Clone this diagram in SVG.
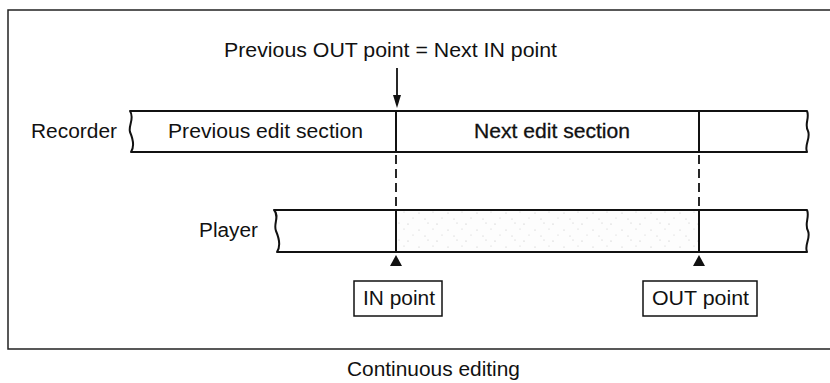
<svg xmlns="http://www.w3.org/2000/svg" width="830" height="383" viewBox="0 0 830 383">
  <style>
    .t { font-family: "Liberation Sans", Arial, Helvetica, sans-serif; font-size: 20px; fill: #111; }
    .strip { fill: none; stroke: #111; stroke-width: 2; stroke-linejoin: round; }
    .div { stroke: #111; stroke-width: 2; }
    .frame { fill: none; stroke: #222; stroke-width: 1.5; }
    .dash { stroke: #111; stroke-width: 1.8; stroke-dasharray: 9 5; }
    .box { fill: #fff; stroke: #111; stroke-width: 1.5; }
    .tri { fill: #111; }
  </style>
  <defs>
    <pattern id="stipple" width="29" height="17" patternUnits="userSpaceOnUse">
      <rect width="29" height="17" fill="#fdfdfd"/>
      <circle cx="2" cy="3" r="0.6" fill="#bbb"/>
      <circle cx="13" cy="9" r="0.6" fill="#c4c4c4"/>
      <circle cx="22" cy="2" r="0.5" fill="#bbb"/>
      <circle cx="7" cy="14" r="0.5" fill="#c4c4c4"/>
      <circle cx="19" cy="15" r="0.5" fill="#bbb"/>
      <circle cx="27" cy="8" r="0.5" fill="#c4c4c4"/>
    </pattern>
  </defs>

  <g id="frame">
    <path class="frame" d="M832,10 H8 V349 H832"/>
  </g>

  <g id="title">
    <text class="t" x="224" y="57" textLength="333" lengthAdjust="spacingAndGlyphs">Previous OUT point = Next IN point</text>
  </g>

  <g id="recorder">
    <text class="t" x="31" y="138" textLength="86" lengthAdjust="spacingAndGlyphs">Recorder</text>
    <path class="strip" d="M130,111 H807 C810,118 804,124 808,131 C811,138 804,145 807,152 H131 C135,146 133,139 130,132 C128,126 135,118 130,111 Z"/>
    <line class="div" x1="396" y1="111" x2="396" y2="152"/>
    <line class="div" x1="699" y1="111" x2="699" y2="152"/>
    <text class="t" x="168" y="138" textLength="195" lengthAdjust="spacingAndGlyphs">Previous edit section</text>
    <text class="t" x="474" y="138" textLength="156" lengthAdjust="spacingAndGlyphs" stroke="#111" stroke-width="0.3">Next edit section</text>
  </g>

  <g id="player">
    <text class="t" x="199" y="237" textLength="59" lengthAdjust="spacingAndGlyphs">Player</text>
    <rect x="397" y="211" width="301" height="40" fill="url(#stipple)"/>
    <path class="strip" d="M274,210 H807 C810,217 804,224 808,231 C811,238 804,245 807,252 H277 C281,246 279,238 276,231 C273,224 280,216 274,210 Z"/>
    <line class="div" x1="396" y1="210" x2="396" y2="252"/>
    <line class="div" x1="699" y1="210" x2="699" y2="252"/>
  </g>

  <g id="in-point">
    <rect class="box" x="354" y="281" width="88" height="35"/>
    <text class="t" x="363" y="305" textLength="72" lengthAdjust="spacingAndGlyphs">IN point</text>
  </g>

  <g id="out-point">
    <rect class="box" x="643" y="281" width="114" height="35"/>
    <text class="t" x="652" y="305" textLength="97" lengthAdjust="spacingAndGlyphs">OUT point</text>
  </g>

  <g id="connectors">
    <line x1="397" y1="68" x2="397" y2="97" stroke="#111" stroke-width="1.8"/>
    <polygon class="tri" points="393,95 401,95 397,108"/>
    <line class="dash" x1="396" y1="155" x2="396" y2="209"/>
    <line class="dash" x1="699" y1="155" x2="699" y2="209"/>
    <polygon class="tri" points="396,255 402,266 390,266"/>
    <polygon class="tri" points="699,255 705,266 693,266"/>
  </g>

  <g id="caption">
    <text class="t" x="347" y="376" textLength="173" lengthAdjust="spacingAndGlyphs">Continuous editing</text>
  </g>
</svg>
